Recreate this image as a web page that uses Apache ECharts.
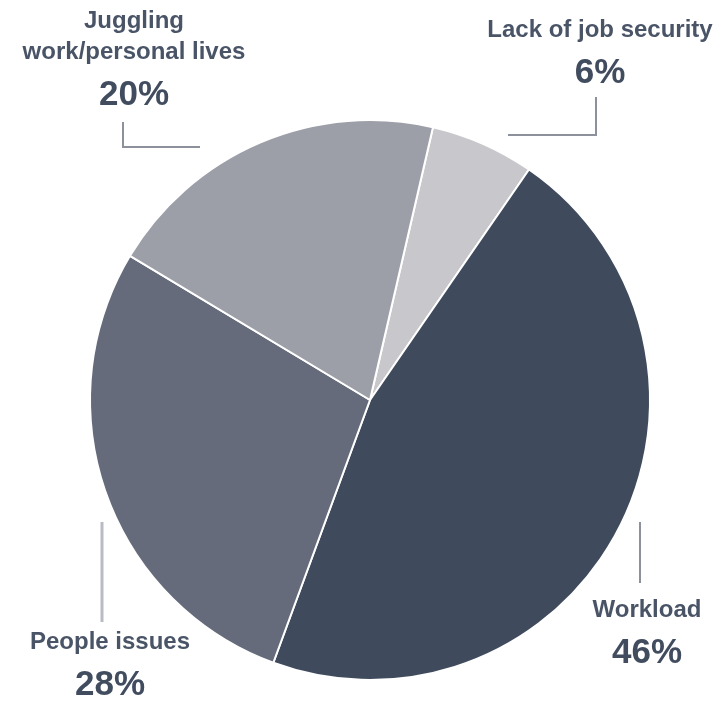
<!DOCTYPE html>
<html>
<head>
<meta charset="utf-8">
<script src="https://cdn.jsdelivr.net/npm/echarts@6/dist/echarts.min.js"></script>
<style>html,body{margin:0;padding:0;background:#fff}#c{width:725px;height:701px}</style>
</head>
<body>
<div id="c"></div>
<script>
var categories = ['Lack of job security', 'Workload', 'People issues', 'Juggling\nwork/personal lives'];
var values = [6, 46, 28, 20];
var colors = ['#c7c7cc', '#3f4b5d', '#656b7b', '#9c9ea8'];
var labelPos = [[600, 15], [647, 595], [110, 627], [134, 6]];

var chart = echarts.init(document.getElementById('c'));
chart.setOption({
  animation: false,
  backgroundColor: '#ffffff',
  series: [{
    type: 'pie',
    center: [370, 400],
    radius: [0, 280],
    startAngle: 77,
    clockwise: true,
    data: categories.map(function (c, i) {
      return { name: c, value: values[i], itemStyle: { color: colors[i] } };
    }),
    itemStyle: { borderColor: '#ffffff', borderWidth: 2 },
    label: {
      show: true,
      position: 'inside',
      overflow: 'none',
      formatter: function (p) {
        return p.name.split('\n').map(function (s) { return '{n|' + s + '}'; }).join('\n') + '\n{v|' + p.value + '%}';
      },
      rich: {
        n: { fontFamily: 'Liberation Sans', fontSize: 24, fontWeight: 'bold', color: '#4a5467', lineHeight: 31, align: 'center' },
        v: { fontFamily: 'Liberation Sans', fontSize: 35, fontWeight: 'bold', color: '#414c5f', lineHeight: 54, align: 'center' }
      }
    },
    labelLine: { show: false },
    labelLayout: function (p) {
      var pos = labelPos[p.dataIndex];
      return { x: pos[0], y: pos[1], align: 'center', verticalAlign: 'top', hideOverlap: false };
    }
  }],
  graphic: [
    { type: 'polyline', shape: { points: [[123, 122], [123, 147], [200, 147]] }, style: { stroke: '#8d919b', lineWidth: 2, fill: null } },
    { type: 'polyline', shape: { points: [[508, 135], [596, 135], [596, 97]] }, style: { stroke: '#8d919b', lineWidth: 2, fill: null } },
    { type: 'polyline', shape: { points: [[102, 522], [102, 622]] }, style: { stroke: '#b8bbc2', lineWidth: 3, fill: null } },
    { type: 'polyline', shape: { points: [[640, 522], [640, 583]] }, style: { stroke: '#8d919b', lineWidth: 2, fill: null } }
  ]
});
</script>
</body>
</html>
